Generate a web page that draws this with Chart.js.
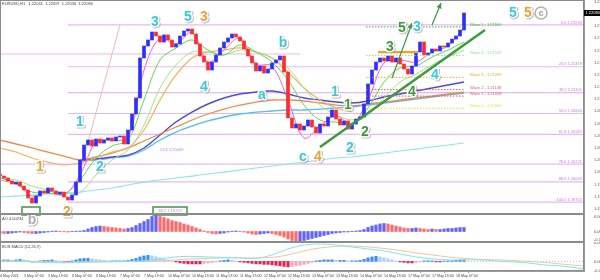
<!DOCTYPE html>
<html>
<head>
<meta charset="utf-8">
<script src="https://cdn.jsdelivr.net/npm/chart.js@4.4.1/dist/chart.umd.min.js"></script>
<style>
html, body { margin: 0; padding: 0; background: #fff; }
#wrap { position: relative; width: 600px; height: 280px; overflow: hidden; }
canvas { position: absolute; left: 0; }
#mainChart { top: 0; z-index: 3; }
#aoChart { top: 214px; z-index: 1; }
#macdChart { top: 242px; z-index: 1; }
</style>
</head>
<body>
<div id="wrap">
    <canvas id="aoChart" width="600" height="28"></canvas>
    <canvas id="macdChart" width="600" height="38"></canvas>
    <canvas id="mainChart" width="600" height="280"></canvas>
</div>
<script>
"use strict";

// time axis (hours since first bar), labels as printed under the chart
var tickHours = [0, 12, 24, 36, 48, 60, 72, 84, 96, 108, 120, 132, 144, 156, 168, 180, 192, 204, 216, 228];
var tickLabels = ["4 May 2021", "5 May 07:00", "5 May 19:00", "6 May 07:00", "6 May 19:00", "7 May 07:00",
    "7 May 19:00", "10 May 07:00", "10 May 19:00", "11 May 07:00", "11 May 19:00", "12 May 07:00",
    "12 May 19:00", "13 May 07:00", "13 May 19:00", "14 May 07:00", "14 May 19:00", "17 May 07:00",
    "17 May 19:00", "18 May 07:00"];

var priceTicks = [1.22220, 1.22070, 1.21920, 1.21770, 1.21620, 1.21470, 1.21320, 1.21170, 1.21020,
    1.20870, 1.20720, 1.20570, 1.20420, 1.20270, 1.20120, 1.19970, 1.19820, 1.19670];
var aoTicks = [0.00834, 0, -0.00490];
var macdTicks = [0.00311, 0, -0.00155];

// price bars, one close every 2 hours
var firstOpen = 1.20100;
var closes = [
    1.20075, 1.20051, 1.20014, 1.19977, 1.20001, 1.19952, 1.19903, 1.19805, 1.19743, 1.19829,
    1.19891, 1.19866, 1.19928, 1.19891, 1.19854, 1.19878, 1.19817, 1.19780, 1.19842, 1.20001,
    1.20272, 1.20457, 1.20518, 1.20444, 1.20530, 1.20481, 1.20518, 1.20543, 1.20506, 1.20555,
    1.20567, 1.20469, 1.20641, 1.20838, 1.21035, 1.21527, 1.21674, 1.21748, 1.21846, 1.21797,
    1.21723, 1.21810, 1.21748, 1.21662, 1.21699, 1.21797, 1.21859, 1.21883, 1.21822, 1.21699,
    1.21551, 1.21477, 1.21379, 1.21477, 1.21564, 1.21650, 1.21723, 1.21773, 1.21822, 1.21785,
    1.21736, 1.21637, 1.21551, 1.21465, 1.21367, 1.21428, 1.21342, 1.21391, 1.21465, 1.21502,
    1.21551, 1.21354, 1.20789, 1.20666, 1.20715, 1.20641, 1.20690, 1.20764, 1.20678, 1.20604,
    1.20715, 1.20690, 1.20801, 1.20887, 1.20776, 1.20703, 1.20752, 1.20653, 1.20715, 1.20776,
    1.20801, 1.20961, 1.21207, 1.21379, 1.21477, 1.21527, 1.21490, 1.21551, 1.21477, 1.21527,
    1.21453, 1.21391, 1.21330, 1.21428, 1.21600, 1.21723, 1.21564, 1.21588, 1.21637, 1.21613,
    1.21674, 1.21662, 1.21711, 1.21760, 1.21797, 1.21871, 1.22080];

// moving averages, one value every 8 hours
var maRust = [1.20518, 1.20469, 1.20420, 1.20370, 1.20321, 1.20272, 1.20309, 1.20358, 1.20420, 1.20506,
    1.20592, 1.20678, 1.20764, 1.20838, 1.20899, 1.20948, 1.20985, 1.21010, 1.21010, 1.20998,
    1.20973, 1.20948, 1.20936, 1.20961, 1.20985, 1.21010, 1.21035, 1.21059, 1.21084, 1.21108];
var maOrange = [1.20420, 1.20370, 1.20297, 1.20247, 1.20211, 1.20235, 1.20297, 1.20370, 1.20420, 1.20641,
    1.21010, 1.21318, 1.21527, 1.21600, 1.21625, 1.21650, 1.21600, 1.21527, 1.21354, 1.21158,
    1.21010, 1.20912, 1.20862, null, null, null, null, null, null, null];
var maBlue = [null, null, null, null, null, 1.20272, 1.20284, 1.20309, 1.20333, 1.20420,
    1.20579, 1.20739, 1.20862, 1.20961, 1.21035, 1.21084, 1.21108, 1.21121, 1.21084, 1.21035,
    1.21010, 1.20985, 1.20973, 1.20998, 1.21047, 1.21084, 1.21121, 1.21158, 1.21195, 1.21231];
var maCyan = [null, null, null, null, null, 1.20260, 1.20272, 1.20297, 1.20321, 1.20395,
    1.20518, 1.20616, 1.20690, 1.20752, 1.20801, 1.20838, 1.20862, 1.20875, 1.20887, 1.20887,
    1.20899, 1.20912, 1.20924, 1.20948, 1.20973, 1.20998, 1.21022, 1.21047, 1.21072, 1.21096];
var maTeal = [1.19817, 1.19829, 1.19842, 1.19854, 1.19866, 1.19878, 1.19903, 1.19928, 1.19965, 1.20001,
    1.20026, 1.20051, 1.20075, 1.20100, 1.20124, 1.20149, 1.20174, 1.20198, 1.20223, 1.20247,
    1.20272, 1.20297, 1.20309, 1.20333, 1.20358, 1.20383, 1.20407, 1.20432, 1.20457, 1.20481];
var maGreenFast = [1.20026, 1.19977, 1.19878, 1.19866, 1.19854, 1.20026, 1.20297, 1.20444, 1.20518, 1.21010,
    1.21502, 1.21650, 1.21748, 1.21625, 1.21564, 1.21687, 1.21600, 1.21477, 1.21256, 1.20948,
    1.20764, 1.20739, 1.20727, 1.20912, 1.21231, 1.21404, 1.21428, 1.21539, 1.21625, 1.21723];
var maGreenSlow = [1.20051, 1.20026, 1.19952, 1.19903, 1.19866, 1.19878, 1.20088, 1.20272, 1.20395, 1.20702,
    1.21158, 1.21441, 1.21600, 1.21600, 1.21564, 1.21625, 1.21600, 1.21527, 1.21404, 1.21158,
    1.20948, 1.20825, 1.20764, 1.20825, 1.21035, 1.21231, 1.21330, 1.21441, 1.21539, 1.21625];
var maMagenta = [1.20051, 1.19989, 1.19829, 1.19891, 1.19842, 1.20088, 1.20493, 1.20518, 1.20543, 1.21379,
    1.21773, 1.21699, 1.21846, 1.21477, 1.21625, 1.21773, 1.21453, 1.21428, 1.21010, 1.20543,
    1.20690, 1.20813, 1.20715, 1.21010, 1.21465, 1.21502, 1.21477, 1.21600, 1.21674, 1.21896];

// fibonacci retracement
var fibLevels = [0.0, 23.6, 38.2, 50.0, 61.8, 78.6, 88.6, 100.0];
var fibPrices = [1.21933, 1.21419, 1.21101, 1.20844, 1.20587, 1.20221, 1.20003, 1.19755];
var fibStart = [34, 34, 34, 34, 34, 0, 34, 34];

// wave targets on the right
var waveNames = ["Wave 5", "Wave 4", "Wave 3", "Wave 2", "Wave 1", "Wave 0"];
var wavePrices = [1.21909, 1.21559, 1.21289, 1.21138, 1.21058, 1.20909];
var waveColors = ["#3cb043", "#8fe08f", "#f5a623", "#f05a5a", "#f05a5a", "#e3dc3a"];

// drawn objects [hour, price]
var trendLine = [[160, 1.20432], [242.5, 1.21871]];
var arrowA = [[196, 1.21281], [206, 1.21957]];
var arrowB = [[216, 1.21933], [220.5, 1.22203]];
var fibBase = [[36.5, 1.19817], [60, 1.21933]];
var orangeLevel = [[189, 1.21600], [209, 1.21600]];
var otherLevel = [[0, 1.21576], [150, 1.21576]];

// wave counts: text, colour, hour, price
var waveLabels = [
    ["1", "#f0a030", 20, 1.20186], ["2", "#f0a030", 33.5, 1.19632], ["b", "#b0b0b0", 16, 1.19534],
    ["1", "#3cc8dc", 40, 1.20739], ["2", "#3cc8dc", 50, 1.20186], ["3", "#3cc8dc", 77.5, 1.21969],
    ["5", "#3cc8dc", 94, 1.22031], ["3", "#f0a030", 102, 1.22031], ["4", "#3cc8dc", 102, 1.21170],
    ["a", "#3cc8dc", 131, 1.21072], ["b", "#3cc8dc", 141.5, 1.21711], ["c", "#3cc8dc", 151.5, 1.20309],
    ["4", "#f0a030", 159, 1.20309], ["1", "#3cc8dc", 167.5, 1.21108], ["1", "#3c9a3c", 174, 1.20948],
    ["2", "#3cc8dc", 175, 1.20420], ["2", "#3c9a3c", 182.5, 1.20616], ["3", "#3c9a3c", 195, 1.21662],
    ["5", "#3c9a3c", 201, 1.21896], ["3", "#3cc8dc", 208.5, 1.21908], ["4", "#3c9a3c", 206, 1.21108],
    ["4", "#3cc8dc", 217.5, 1.21318], ["5", "#3cc8dc", 256.5, 1.22080], ["5", "#f0a030", 264, 1.22080]];

// indicators below: histogram every 2 hours, lines every 4 hours
var aoValues = [
    -0.00087, -0.00116, -0.00116, -0.00087, -0.00058, -0.00029, -0.00058, -0.00087, -0.00116, -0.00116,
    -0.00087, -0.00058, -0.00029, 0.00017, 0.00029, 0.00017, -0.00017, -0.00029, 0.00012, 0.00017,
    0.00029, 0.00058, 0.00145, 0.00232, 0.00290, 0.00319, 0.00290, 0.00261, 0.00232, 0.00203,
    0.00174, 0.00145, 0.00174, 0.00232, 0.00348, 0.00464, 0.00580, 0.00696, 0.00870, 0.00928,
    0.00870, 0.00812, 0.00725, 0.00638, 0.00580, 0.00522, 0.00435, 0.00377, 0.00290, 0.00203,
    0.00116, 0.00029, -0.00058, -0.00116, -0.00145, -0.00116, -0.00087, -0.00029, 0.00017, 0.00029,
    0.00017, -0.00029, -0.00087, -0.00145, -0.00174, -0.00145, -0.00116, -0.00087, -0.00116, -0.00174,
    -0.00232, -0.00319, -0.00435, -0.00522, -0.00551, -0.00551, -0.00522, -0.00464, -0.00406, -0.00348,
    -0.00290, -0.00232, -0.00174, -0.00116, -0.00087, -0.00058, -0.00029, -0.00029, 0.00017, 0.00029,
    0.00058, 0.00116, 0.00232, 0.00319, 0.00377, 0.00435, 0.00464, 0.00435, 0.00377, 0.00319,
    0.00261, 0.00203, 0.00174, 0.00174, 0.00203, 0.00174, 0.00145, 0.00116, 0.00145, 0.00116,
    0.00116, 0.00145, 0.00174, 0.00174, 0.00203, 0.00232, 0.00232];
var macdHist = [
    0.00017, 0.00026, 0.00026, 0.00017, 0.00026, 0.00034, 0.00026, 0.00017, -0.00009, -0.00009,
    0.00009, 0.00017, 0.00017, 0.00026, 0.00017, 0.00009, -0.00009, -0.00009, 0.00009, 0.00026,
    0.00043, 0.00051, 0.00051, 0.00043, 0.00034, 0.00026, 0.00017, 0.00009, 0.00009, 0.00009,
    0.00009, 0.00009, 0.00017, 0.00034, 0.00051, 0.00077, 0.00094, 0.00103, 0.00094, 0.00077,
    0.00060, 0.00043, 0.00026, 0.00009, -0.00009, -0.00026, -0.00034, -0.00043, -0.00043, -0.00043,
    -0.00043, -0.00034, -0.00026, -0.00017, -0.00009, 0.00009, 0.00017, 0.00026, 0.00017, 0.00009,
    -0.00009, -0.00017, -0.00026, -0.00034, -0.00043, -0.00043, -0.00051, -0.00051, -0.00060, -0.00068,
    -0.00077, -0.00086, -0.00094, -0.00086, -0.00077, -0.00068, -0.00051, -0.00034, -0.00017, 0.00009,
    0.00017, 0.00026, 0.00026, 0.00026, 0.00017, 0.00017, 0.00017, 0.00009, 0.00009, 0.00009,
    0.00017, 0.00034, 0.00060, 0.00077, 0.00086, 0.00077, 0.00060, 0.00043, 0.00026, 0.00009,
    -0.00009, -0.00017, -0.00026, -0.00026, -0.00017, -0.00009, 0.00009, 0.00009, 0.00009, -0.00009,
    -0.00009, 0.00005, 0.00009, 0.00009, 0.00017, 0.00026, 0.00026];
var macdMain = [0.00009, 0.00009, -0.00009, -0.00017, -0.00026, -0.00009, -0.00009, 0, 0, 0.00009,
    0.00043, 0.00077, 0.00086, 0.00077, 0.00068, 0.00060, 0.00051, 0.00111, 0.00214, 0.00282,
    0.00299, 0.00282, 0.00248, 0.00214, 0.00180, 0.00128, 0.00077, 0.00043, 0.00026, 0.00026,
    0.00026, 0.00009, -0.00009, -0.00026, -0.00060, -0.00077, -0.00111, -0.00145, -0.00162, -0.00154,
    -0.00128, -0.00094, -0.00068, -0.00051, -0.00043, -0.00017, 0.00043, 0.00111, 0.00145, 0.00145,
    0.00128, 0.00094, 0.00077, 0.00077, 0.00068, 0.00060, 0.00060, 0.00068, 0.00086];
var macdSignal = [0, 0, 0, -0.00009, -0.00009, -0.00017, -0.00009, -0.00009, 0, 0,
    0.00009, 0.00026, 0.00043, 0.00051, 0.00060, 0.00060, 0.00060, 0.00068, 0.00111, 0.00180,
    0.00231, 0.00257, 0.00265, 0.00248, 0.00222, 0.00188, 0.00145, 0.00111, 0.00077, 0.00051,
    0.00034, 0.00026, 0.00017, 0, -0.00017, -0.00043, -0.00068, -0.00094, -0.00120, -0.00137,
    -0.00137, -0.00128, -0.00111, -0.00094, -0.00077, -0.00060, -0.00026, 0.00026, 0.00077, 0.00111,
    0.00128, 0.00128, 0.00111, 0.00094, 0.00086, 0.00077, 0.00068, 0.00068, 0.00077];

var X_MAX = 292;
var tinyFont = '4px "Liberation Sans", Arial, sans-serif';
Chart.defaults.font.family = '"Liberation Sans", Arial, sans-serif';

function series(values, step) {
    return values.map(function (v, i) { return {x: i * step, y: v}; });
}

function pairs(pts) {
    return pts.map(function (p) { return {x: p[0], y: p[1]}; });
}

function lineSet(data, color, width, order, extra) {
    var ds = {
        type: 'line', data: data, borderColor: color, borderWidth: width,
        pointRadius: 0, fill: false, order: order, tension: 0
    };
    for (var k in extra) ds[k] = extra[k];
    return ds;
}

function candleData() {
    var out = [], open = firstOpen;
    for (var i = 0; i < closes.length; i++) {
        out.push({x: i * 2, y: [open, closes[i]]});
        open = closes[i];
    }
    return out;
}

function fitRight(scale) {
    scale.width = 16;
    scale.paddingTop = 0;
    scale.paddingBottom = 0;
}

function tickFmt(v) {
    return v === 0 ? '0.00' : v.toFixed(5);
}

function fixedTicks(list) {
    return function (scale) {
        scale.ticks = list.map(function (v) { return {value: v}; });
    };
}

function rightAxis(min, max, list) {
    return {
        position: 'right', min: min, max: max,
        afterBuildTicks: fixedTicks(list), afterFit: fitRight,
        grid: {display: false},
        border: {display: true, color: '#9a9a9a'},
        ticks: {font: {size: 4}, color: '#555', padding: 2, autoSkip: false, callback: tickFmt}
    };
}

var framePlugin = {
    id: 'frame',
    afterDraw: function (chart) {
        var a = chart.chartArea, ctx = chart.ctx;
        ctx.save();
        ctx.strokeStyle = '#8c8c8c';
        ctx.lineWidth = 1;
        ctx.strokeRect(a.left + 0.5, a.top + 0.5, a.right - a.left - 1, a.bottom - a.top - 1);
        ctx.restore();
    }
};

function waveText(ctx, text, color, x, y) {
    ctx.font = 'bold 14px "Liberation Sans", Arial, sans-serif';
    ctx.textAlign = 'center';
    ctx.textBaseline = 'middle';
    ctx.lineJoin = 'round';
    ctx.lineWidth = 3;
    ctx.strokeStyle = 'rgba(140,140,140,0.55)';
    ctx.strokeText(text, x + 1, y + 1);
    ctx.strokeStyle = '#ffffff';
    ctx.strokeText(text, x, y);
    ctx.fillStyle = color;
    ctx.fillText(text, x, y);
}

function arrowHead(ctx, x1, y1, x2, y2, color) {
    var a = Math.atan2(y2 - y1, x2 - x1), s = 6;
    ctx.beginPath();
    ctx.moveTo(x2, y2);
    ctx.lineTo(x2 - s * Math.cos(a - 0.45), y2 - s * Math.sin(a - 0.45));
    ctx.lineTo(x2 - s * Math.cos(a + 0.45), y2 - s * Math.sin(a + 0.45));
    ctx.closePath();
    ctx.fillStyle = color;
    ctx.fill();
}

var mainOverlay = {
    id: 'mainOverlay',
    afterDraw: function (chart) {
        var ctx = chart.ctx, xs = chart.scales.x, ys = chart.scales.y, area = chart.chartArea;
        var px = function (h) { return xs.getPixelForValue(h); };
        var py = function (p) { return ys.getPixelForValue(p); };
        var i;
        ctx.save();

        // fib texts
        ctx.font = tinyFont;
        ctx.textBaseline = 'bottom';
        ctx.textAlign = 'right';
        ctx.fillStyle = '#c07ee0';
        for (i = 0; i < fibLevels.length; i++) {
            ctx.fillText(fibLevels[i].toFixed(1) + ' ' + fibPrices[i].toFixed(5), area.right - 2, py(fibPrices[i]) - 0.5);
        }
        ctx.textAlign = 'left';
        ctx.fillText('23.6 1.20449', px(80), py(1.20370));

        // wave target texts
        ctx.textBaseline = 'middle';
        for (i = 0; i < waveNames.length; i++) {
            ctx.fillStyle = waveColors[i];
            ctx.fillText(waveNames[i] + ' - ' + wavePrices[i].toFixed(5), px(235), py(wavePrices[i]) - 2);
        }

        // green marker boxes at the bottom
        ctx.strokeStyle = '#3c9a3c';
        ctx.lineWidth = 1.5;
        ctx.strokeRect(px(11), py(1.19694), px(20) - px(11), py(1.19596) - py(1.19694));
        ctx.strokeRect(px(76.5), py(1.19694), px(93.5) - px(76.5), py(1.19596) - py(1.19694));
        ctx.fillStyle = '#c07ee0';
        ctx.textAlign = 'center';
        ctx.fillText('38.2 1.19729', px(85), py(1.19645));

        // arrow heads
        arrowHead(ctx, px(arrowA[0][0]), py(arrowA[0][1]), px(arrowA[1][0]), py(arrowA[1][1]), '#3c9a3c');
        arrowHead(ctx, px(arrowB[0][0]), py(arrowB[0][1]), px(arrowB[1][0]), py(arrowB[1][1]), '#3c9a3c');

        // wave counts
        for (i = 0; i < waveLabels.length; i++) {
            var w = waveLabels[i];
            waveText(ctx, w[0], w[1], px(w[2]), py(w[3]));
        }
        // circled c at top right
        var cx = px(270.5), cy = py(1.22080);
        ctx.beginPath();
        ctx.arc(cx, cy, 6, 0, Math.PI * 2);
        ctx.strokeStyle = '#b0b0b0';
        ctx.lineWidth = 1.5;
        ctx.stroke();
        ctx.font = 'bold 9px "Liberation Sans", Arial, sans-serif';
        ctx.textAlign = 'center';
        ctx.fillStyle = '#a0a0a0';
        ctx.fillText('c', cx, cy + 0.5);

        // current price box
        var last = closes[closes.length - 1];
        var y = py(last);
        ctx.fillStyle = '#000';
        ctx.fillRect(area.right, y - 3, 16, 6);
        ctx.font = tinyFont;
        ctx.fillStyle = '#fff';
        ctx.textAlign = 'left';
        ctx.fillText(last.toFixed(5), area.right + 1.5, y);

        // header
        ctx.fillStyle = '#444';
        ctx.textBaseline = 'top';
        ctx.fillText('EURUSD,H1   1.22041  1.22097  1.22036  1.22080', 2, 1.5);

        // panel separator
        ctx.strokeStyle = '#8c8c8c';
        ctx.lineWidth = 2;
        ctx.beginPath();
        ctx.moveTo(0, area.bottom);
        ctx.lineTo(area.right, area.bottom);
        ctx.stroke();
        ctx.restore();
    }
};

// ---- main price panel ----
var mainSets = [];
mainSets.push(lineSet(pairs(arrowA), '#3c9a3c', 1.2, 1));
mainSets.push(lineSet(pairs(arrowB), '#3c9a3c', 1.2, 1));
mainSets.push(lineSet(pairs(trendLine), '#3c9a3c', 2.5, 2));
mainSets.push(lineSet(pairs(orangeLevel), '#f5a020', 2.2, 2));
for (var w = 0; w < waveNames.length; w++) {
    mainSets.push(lineSet([{x: 183, y: wavePrices[w]}, {x: 232, y: wavePrices[w]}], waveColors[w], 1, 3,
        {borderDash: [1.5, 1.5]}));
}
mainSets.push({
    type: 'bar', data: candleData(), order: 5, barThickness: 3, minBarLength: 1,
    backgroundColor: function (c) {
        var r = c.raw;
        return (r && r.y[1] >= r.y[0]) ? '#2e2eff' : '#ff2b2b';
    }
});
mainSets.push(lineSet(series(maMagenta, 8), '#f060d8', 1, 6, {tension: 0.35}));
mainSets.push(lineSet(series(maGreenFast, 8), '#5fd94a', 1, 6, {tension: 0.35}));
mainSets.push(lineSet(series(maGreenSlow, 8), '#9fe683', 1, 6, {tension: 0.35}));
mainSets.push(lineSet(series(maOrange, 8), '#f7b25c', 1.2, 7, {tension: 0.35}));
mainSets.push(lineSet(series(maRust, 8), '#f08a4b', 1.3, 7, {tension: 0.35}));
mainSets.push(lineSet(series(maBlue, 8), '#4a4ae6', 1.4, 7, {tension: 0.35}));
mainSets.push(lineSet(series(maCyan, 8), '#4dbff0', 1.3, 7, {tension: 0.35}));
mainSets.push(lineSet(series(maTeal, 8), '#8ee6e6', 1.2, 7, {tension: 0.35}));
mainSets.push(lineSet(pairs(fibBase), '#f6a6a6', 0.8, 8));
mainSets.push(lineSet(pairs(otherLevel), '#e8b8f4', 1.2, 9));
for (var f = 0; f < fibLevels.length; f++) {
    mainSets.push(lineSet([{x: fibStart[f], y: fibPrices[f]}, {x: X_MAX, y: fibPrices[f]}], '#e8b8f4', 1.2, 9));
}

var mainChart = new Chart(document.getElementById('mainChart'), {
    type: 'bar',
    data: {datasets: mainSets},
    options: {
        responsive: false, animation: false, devicePixelRatio: 1,
        layout: {padding: {left: 0, right: 0, top: 0, bottom: 66}},
        plugins: {legend: {display: false}, tooltip: {enabled: false}},
        scales: {
            x: {type: 'linear', min: 0, max: X_MAX, offset: false, display: false},
            y: rightAxis(1.19608, 1.22240, priceTicks)
        }
    },
    plugins: [framePlugin, mainOverlay]
});

// ---- AO panel ----
var aoChart = new Chart(document.getElementById('aoChart'), {
    type: 'bar',
    data: {
        datasets: [{
            data: series(aoValues, 2), barThickness: 2.5,
            backgroundColor: function (c) {
                var i = c.dataIndex;
                var prev = i > 0 ? aoValues[i - 1] : aoValues[i];
                return aoValues[i] >= prev ? 'rgba(70,70,255,0.85)' : 'rgba(255,80,80,0.85)';
            }
        }]
    },
    options: {
        responsive: false, animation: false, devicePixelRatio: 1,
        layout: {padding: 0},
        plugins: {legend: {display: false}, tooltip: {enabled: false}},
        scales: {
            x: {type: 'linear', min: 0, max: X_MAX, offset: false, display: false},
            y: rightAxis(-0.00609, 0.01015, aoTicks)
        }
    },
    plugins: [framePlugin, {
        id: 'aoTitle',
        afterDraw: function (chart) {
            var ctx = chart.ctx;
            ctx.save();
            ctx.font = tinyFont;
            ctx.fillStyle = '#444';
            ctx.textBaseline = 'top';
            ctx.fillText('AO 0.00234', 2, 3);
            ctx.strokeStyle = '#8c8c8c';
            ctx.lineWidth = 2;
            ctx.beginPath();
            ctx.moveTo(0, chart.chartArea.bottom);
            ctx.lineTo(chart.chartArea.right, chart.chartArea.bottom);
            ctx.stroke();
            ctx.restore();
        }
    }]
});

// ---- MACD panel ----
var macdChart = new Chart(document.getElementById('macdChart'), {
    type: 'bar',
    data: {
        datasets: [
            lineSet(series(macdMain, 8), '#7ee6f0', 1, 1, {tension: 0.35}),
            lineSet(series(macdSignal, 8), '#f7c49a', 1, 1, {tension: 0.35}),
            lineSet([{x: 0, y: 0}, {x: X_MAX, y: 0}], '#b0b0b0', 0.8, 3, {borderDash: [1, 2]}),
            {
                data: series(macdHist, 2), barThickness: 2.5, order: 2,
                backgroundColor: function (c) {
                    var i = c.dataIndex, v = macdHist[i];
                    var prev = i > 0 ? macdHist[i - 1] : v;
                    if (v >= 0) return v >= prev ? '#3a8ff5' : '#a9d0ff';
                    return v <= prev ? '#e0245a' : '#f5a9bd';
                }
            }
        ]
    },
    options: {
        responsive: false, animation: false, devicePixelRatio: 1,
        layout: {padding: 0},
        plugins: {legend: {display: false}, tooltip: {enabled: false}},
        scales: {
            x: {
                type: 'linear', min: 0, max: X_MAX, offset: false,
                afterBuildTicks: fixedTicks(tickHours),
                afterFit: function (scale) {
                    scale.height = 9;
                    scale.paddingLeft = 0;
                    scale.paddingRight = 0;
                },
                grid: {display: true, drawOnChartArea: false, tickLength: 2, color: '#9a9a9a'},
                border: {display: true, color: '#9a9a9a'},
                ticks: {
                    font: {size: 3.6}, color: '#444', padding: 1, align: 'start',
                    autoSkip: false, maxRotation: 0,
                    callback: function (v, i) { return tickLabels[i]; }
                }
            },
            y: rightAxis(-0.00165, 0.00333, macdTicks)
        }
    },
    plugins: [framePlugin, {
        id: 'macdTitle',
        afterDraw: function (chart) {
            var ctx = chart.ctx;
            ctx.save();
            ctx.font = tinyFont;
            ctx.fillStyle = '#444';
            ctx.textBaseline = 'top';
            ctx.fillText('BOS MACD (12,26,9)', 2, 3);
            ctx.restore();
        }
    }]
});
</script>
</body>
</html>
